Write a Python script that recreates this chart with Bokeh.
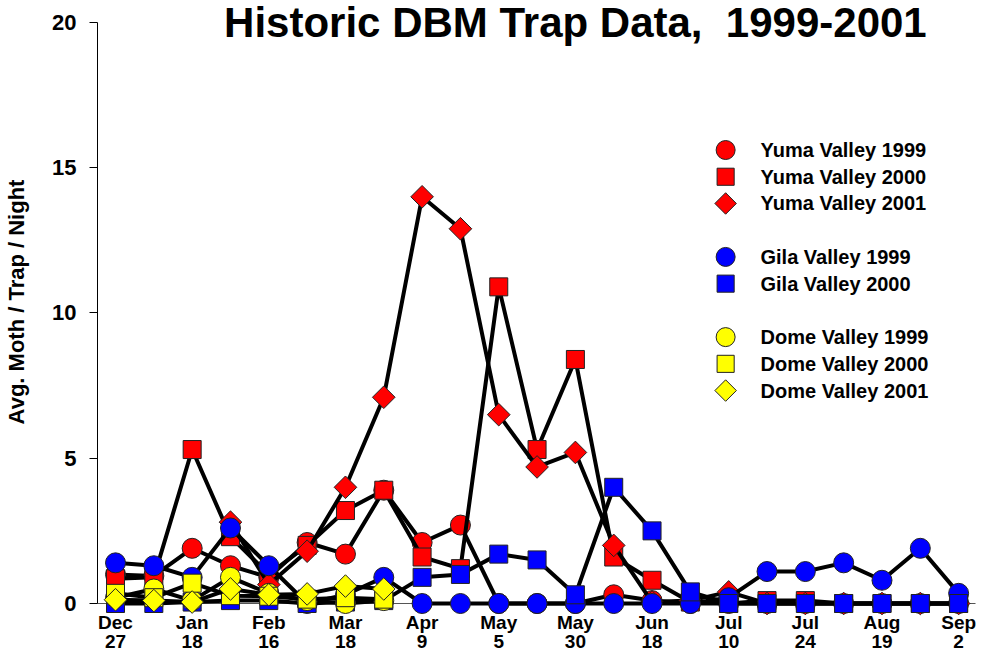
import math
from bokeh.plotting import figure
from bokeh.models import Range1d, FixedTicker, Label, ColumnDataSource
from bokeh.core.properties import value
from bokeh.embed import file_html
from bokeh.resources import INLINE

NaN = float("nan")

# x positions: 23 sampling dates, labels on every second one
tick_labels = ["Dec\n27", "Jan\n18", "Feb\n16", "Mar\n18", "Apr\n9", "May\n5",
               "May\n30", "Jun\n18", "Jul\n10", "Jul\n24", "Aug\n19", "Sep\n2"]
n_dates = 23

yuma_1999 = [1.0, 0.95, 1.9, 1.3, 0.9, 2.1, 1.7, 3.9, 2.1, 2.7, 0, 0, 0, 0.3, 0.1, 0, 0, 0, 0, 0, 0, 0, 0]
yuma_2000 = [0.85, 0.9, 5.3, 2.3, 1.0, 2.0, 3.2, 3.9, 1.6, 1.2, 10.9, 5.3, 8.4, 1.6, 0.8, 0.05, 0, 0.1, 0.1, 0, 0, 0, 0]
yuma_2001 = [NaN, NaN, NaN, 2.8, 0.65, 1.8, 4.0, 7.1, 14.0, 12.9, 6.5, 4.7, 5.2, 2.0, 0.05, 0.1, 0.4, 0, 0, 0, 0, 0, 0]
gila_1999 = [1.4, 1.3, 0.9, 2.6, 1.3, 0, 0.3, 0.9, 0, 0, 0, 0, 0, 0, 0, 0, 0.2, 1.1, 1.1, 1.4, 0.8, 1.9, 0.35]
gila_2000 = [0, 0, 0.05, 0.1, 0.1, 0, 0.05, 0.1, 0.9, 1.0, 1.7, 1.5, 0.3, 4.0, 2.5, 0.4, 0, 0, 0, 0, 0, 0, 0]
dome_1999 = [0.2, 0.5, 0.1, 0.9, 0.35, 0.1, 0.0, 0.1] + [NaN] * 15
dome_2000 = [0.35, 0.2, 0.7, 0.27, 0.25, 0.15, 0.2, 0.15] + [NaN] * 15
dome_2001 = [0.13, 0.1, 0.05, 0.5, 0.3, 0.33, 0.6, 0.5] + [NaN] * 15

series_names = ["Yuma Valley 1999", "Yuma Valley 2000", "Yuma Valley 2001",
                "Gila Valley 1999", "Gila Valley 2000",
                "Dome Valley 1999", "Dome Valley 2000", "Dome Valley 2001"]
series_values = [yuma_1999, yuma_2000, yuma_2001, gila_1999, gila_2000,
                 dome_1999, dome_2000, dome_2001]
series_markers = ["circle", "square", "diamond", "circle", "square", "circle", "square", "diamond"]
series_colors = ["#FF0000", "#FF0000", "#FF0000", "#0000FF", "#0000FF", "#FFFF00", "#FFFF00", "#FFFF00"]
legend_rows = [0, 1, 2, 4, 5, 7, 8, 9]   # blank rows separate the valleys

FONT = "Liberation Sans"
x_idx = list(range(n_dates))

# the frame reaches the top of the canvas so that the title can sit inside it;
# the y axis itself is bounded to 0..20
p = figure(width=978, height=655, output_backend="svg", toolbar_location=None,
           x_range=Range1d(-0.47, 22.44), y_range=Range1d(0, 20.757),
           min_border_left=97, min_border_right=3, min_border_top=0, min_border_bottom=50)
p.background_fill_color = "white"
p.border_fill_color = "white"
p.outline_line_color = None
p.grid.visible = False

# axes
xa = p.xaxis[0]
xa.ticker = FixedTicker(ticks=x_idx)
xa.major_label_overrides = {i: (tick_labels[i // 2] if i % 2 == 0 else "") for i in x_idx}
xa.major_label_text_font = FONT
xa.major_label_text_font_style = "bold"
xa.major_label_text_font_size = "19px"
xa.major_label_text_line_height = 0.95
xa.major_label_text_color = "black"
xa.major_label_standoff = 4
xa.major_tick_out = 4
xa.major_tick_in = 0
xa.minor_tick_out = 0
xa.axis_line_color = "#555555"
xa.major_tick_line_color = "#555555"

ya = p.yaxis[0]
ya.ticker = FixedTicker(ticks=[0, 5, 10, 15, 20])
ya.bounds = (0, 20)
ya.major_label_text_font = FONT
ya.major_label_text_font_style = "bold"
ya.major_label_text_font_size = "22px"
ya.major_label_text_color = "black"
ya.major_label_standoff = 13
ya.major_tick_out = 8
ya.major_tick_in = 0
ya.minor_tick_out = 0
ya.axis_line_color = "black"
ya.axis_label = "Avg. Moth / Trap / Night"
ya.axis_label_text_font = FONT
ya.axis_label_text_font_style = "bold"
ya.axis_label_text_font_size = "22px"
ya.axis_label_text_color = "black"
ya.axis_label_standoff = 20


def add_marker(src, marker, color, size_scale=1.0):
    if marker == "circle":
        return p.scatter("x", "y", source=src, marker="circle", size=20 * size_scale,
                         fill_color=color, line_color="#222222", line_width=1, level="overlay")
    if marker == "square":
        return p.scatter("x", "y", source=src, marker="square", size=18 * size_scale,
                         fill_color=color, line_color="#222222", line_width=1, level="overlay")
    return p.scatter("x", "y", source=src, marker="square", size=16 * size_scale,
                     angle=math.pi / 4, fill_color=color, line_color="#222222",
                     line_width=1, level="overlay")


for vals, marker, color in zip(series_values, series_markers, series_colors):
    src = ColumnDataSource(dict(x=x_idx, y=vals))
    p.line("x", "y", source=src, line_color="black", line_width=4, level="overlay")
    add_marker(src, marker, color)

# legend (markers only, as in the original), laid out in plot units
LEG_MARK_X = 15.92
LEG_TEXT_X = 16.83
LEG_TOP_Y = 15.61
LEG_STEP = 0.92
for name, marker, color, row in zip(series_names, series_markers, series_colors, legend_rows):
    ly = LEG_TOP_Y - row * LEG_STEP
    lsrc = ColumnDataSource(dict(x=[LEG_MARK_X], y=[ly], tx=[LEG_TEXT_X], label=[name]))
    add_marker(lsrc, marker, color, size_scale=0.95)
    p.text("tx", "y", text="label", source=lsrc, text_font=value(FONT), text_font_style="bold",
           text_font_size="20px", text_baseline="middle", text_align="left", text_color="black")

title = Label(x=12, y=20.0, text="Historic DBM Trap Data,\u00a0 1999-2001", text_align="center",
              text_baseline="middle", text_font=FONT, text_font_style="bold",
              text_font_size="42px", text_color="black")
p.add_layout(title)

open("out.html", "w").write(file_html(p, INLINE))
